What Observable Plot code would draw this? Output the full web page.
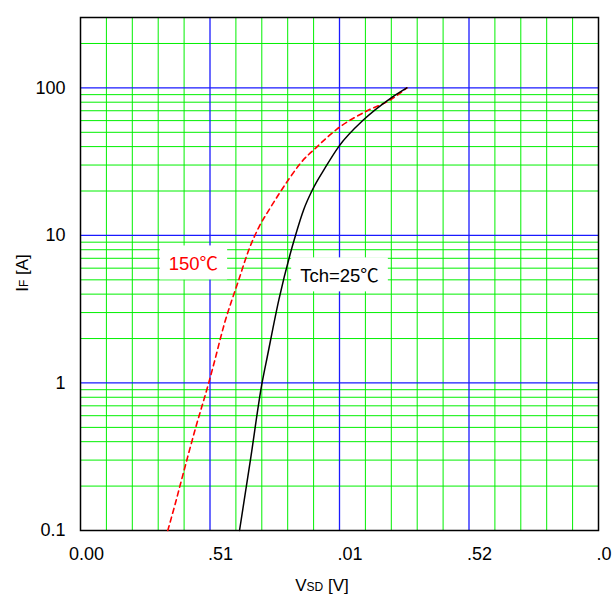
<!DOCTYPE html>
<html>
<head>
<meta charset="utf-8">
<script src="https://cdn.jsdelivr.net/npm/d3@7"></script>
<script src="https://cdn.jsdelivr.net/npm/@observablehq/plot@0.6"></script>
<style>
  html, body { margin: 0; padding: 0; background: #fff; }
  #chart svg { display: block; }
</style>
</head>
<body>
<div id="chart"></div>
<script>
// Forward characteristics of the body diode: IF versus VSD at two channel temperatures
const vsd25 = [0.614, 0.656, 0.701, 0.721, 0.766, 0.830, 0.862, 0.895, 0.946, 0.997, 1.094, 1.197, 1.26];
const if25  = [0.1,   0.30,  1.0,   1.5,   3.67,  10,    15,    20.3,  29,    40,    61,    85,    100];

const vsd150 = [0.337, 0.365, 0.393, 0.445, 0.495, 0.515, 0.555, 0.611, 0.653, 0.689, 0.734, 0.811, 0.849, 0.914, 0.990, 1.107, 1.197, 1.26];
const if150  = [0.1,   0.15,  0.23,  0.5,   1.0,   1.35,  2.5,   5.0,   8.25,  11.4,  15.5,  25,    30.8,  40,    52.5,  70,    83,    100];

// axis ticks and their printed labels
const xTicks  = [0, 0.5, 1.0, 1.5, 2.0];
const xLabels = ["0.00", ".51", ".01", ".52", ".0"];
const yTicks  = [0.1, 1, 10, 100];
const yLabels = ["0.1", "1", "10", "100"];

// grid lines
const gridXMinor = [0.1, 0.2, 0.3, 0.4, 0.6, 0.7, 0.8, 0.9, 1.1, 1.2, 1.3, 1.4, 1.6, 1.7, 1.8, 1.9];
const gridXMajor = [0.5, 1.0, 1.5];
const gridYMinor = [0.2, 0.3, 0.4, 0.5, 0.6, 0.7, 0.8, 0.9,
                    2, 3, 4, 5, 6, 7, 8, 9,
                    20, 30, 40, 50, 60, 70, 80, 90, 200];
const gridYMajor = [1, 10, 100];

// curve labels
const labelText = ["150℃", "Tch=25℃"];
const labelV    = [0.436, 1.0];
const labelI    = [6.35, 5.27];
const labelColor = ["#ff0000", "#000000"];

const curve25  = vsd25.map((v, i) => ({v, i: if25[i]}));
const curve150 = vsd150.map((v, i) => ({v, i: if150[i]}));
const labels = labelText.map((t, k) => ({t, v: labelV[k], i: labelI[k], c: labelColor[k]}));

const fmtX = d => xLabels[xTicks.indexOf(d)];

const plot = Plot.plot({
  width: 613,
  height: 598,
  marginLeft: 80,
  marginRight: 15,
  marginTop: 17,
  marginBottom: 68,
  style: {fontFamily: "'Liberation Sans', Arial, sans-serif", fontSize: "18px", color: "#000", background: "#fff"},
  x: {domain: [0, 2]},
  y: {type: "log", domain: [0.1, 300]},
  marks: [
    Plot.ruleX(gridXMinor, {stroke: "#00f000", strokeWidth: 1}),
    Plot.ruleY(gridYMinor, {stroke: "#00f000", strokeWidth: 1}),
    Plot.ruleX(gridXMajor, {stroke: "#1a1aff", strokeWidth: 1.3}),
    Plot.ruleY(gridYMajor, {stroke: "#1a1aff", strokeWidth: 1.3}),
    Plot.frame({stroke: "#000", strokeWidth: 1.5}),
    Plot.axisY({ticks: yTicks, tickFormat: d => yLabels[yTicks.indexOf(d)], tickSize: 0, tickPadding: 15, fontSize: 18, label: null}),
    Plot.axisX({ticks: xTicks.slice(0, 1), tickFormat: fmtX, tickSize: 0, tickPadding: 17, dx: 6, fontSize: 18, label: null}),
    Plot.axisX({ticks: xTicks.slice(1), tickFormat: fmtX, tickSize: 0, tickPadding: 17, dx: -2, textAnchor: "start", fontSize: 18, label: null}),
    Plot.line(curve150, {x: "v", y: "i", stroke: "#ff0000", strokeWidth: 1.6, strokeDasharray: "5,4", curve: "monotone-x"}),
    Plot.line(curve25, {x: "v", y: "i", stroke: "#000", strokeWidth: 1.5, curve: "monotone-x"}),
    Plot.text(labels, {x: "v", y: "i", text: "t", fill: "c", fontSize: 18.5})
  ]
});

document.getElementById("chart").appendChild(plot);

const svg = d3.select(plot);

// degree sign in a CJK face, then white boxes behind the curve labels
svg.selectAll('g[aria-label="text"] text').each(function() {
  const t = d3.select(this);
  const s = t.text();
  const k = s.indexOf("℃");
  if (k >= 0) {
    t.text(null);
    t.append("tspan").text(s.slice(0, k));
    t.append("tspan").attr("font-family", "'Noto Sans CJK JP', 'DejaVu Sans', sans-serif").text("℃");
  }
  const bb = this.getBBox();
  const padX = 9, padY = 4;
  d3.select(this.parentNode).insert("rect", () => this)
    .attr("x", bb.x - padX)
    .attr("y", bb.y - padY)
    .attr("width", bb.width + 2 * padX)
    .attr("height", bb.height + 2 * padY)
    .attr("transform", this.getAttribute("transform"))
    .attr("fill", "#fff");
});

// axis titles with subscripts
const yTitle = svg.append("text")
  .attr("transform", "translate(28,273) rotate(-90)")
  .attr("text-anchor", "middle")
  .attr("font-size", 17)
  .attr("fill", "#000");
yTitle.append("tspan").text("I");
yTitle.append("tspan").attr("font-size", 12).text("F");
yTitle.append("tspan").text(" [A]");

const xTitle = svg.append("text")
  .attr("x", 322)
  .attr("y", 591)
  .attr("text-anchor", "middle")
  .attr("font-size", 17)
  .attr("fill", "#000");
xTitle.append("tspan").text("V");
xTitle.append("tspan").attr("font-size", 12).text("SD");
xTitle.append("tspan").text(" [V]");
</script>
</body>
</html>
